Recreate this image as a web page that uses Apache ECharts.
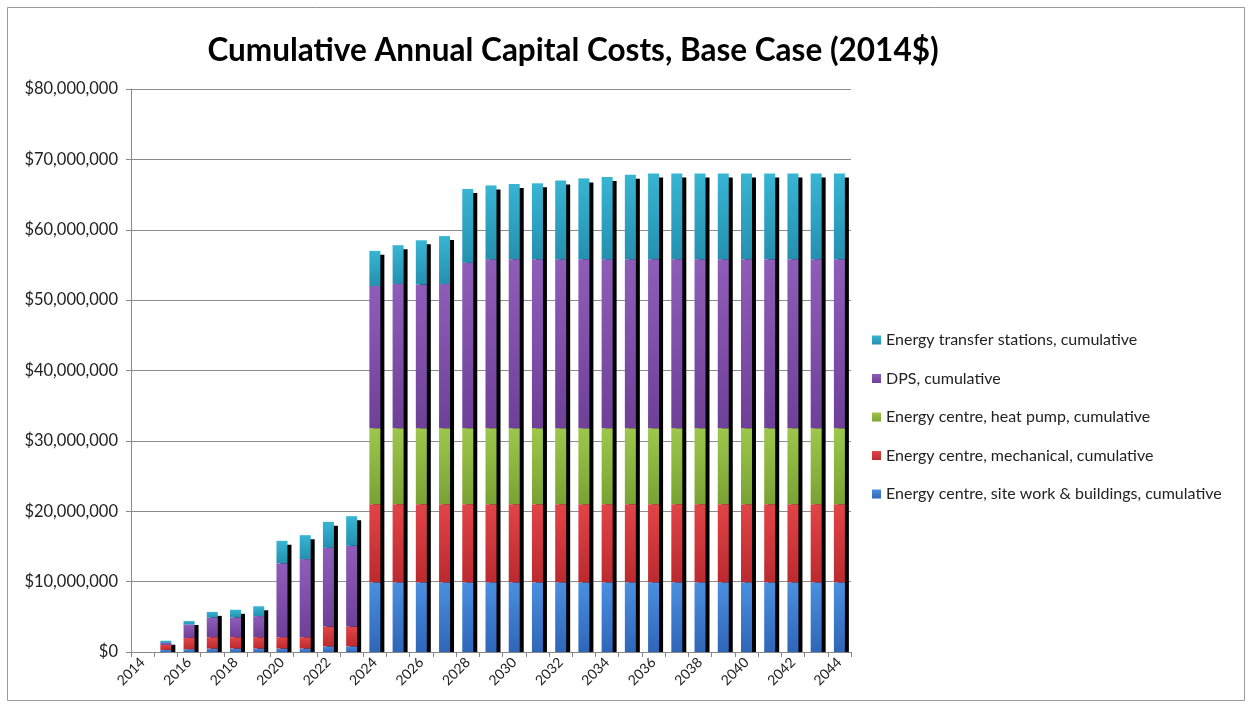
<!DOCTYPE html>
<html>
<head>
<meta charset="utf-8">
<script src="https://cdn.jsdelivr.net/npm/echarts@6/dist/echarts.min.js"></script>
<style>
  html, body { margin: 0; padding: 0; background: #fff; }
  #chart { width: 1250px; height: 707px; }
</style>
</head>
<body>
<div id="chart"></div>
<script>
// values in millions of 2014 dollars
const years = ['2014', '2015', '2016', '2017', '2018', '2019', '2020', '2021', '2022', '2023',
  '2024', '2025', '2026', '2027', '2028', '2029', '2030', '2031', '2032', '2033',
  '2034', '2035', '2036', '2037', '2038', '2039', '2040', '2041', '2042', '2043', '2044']

const siteWork = [0, 0.3, 0.4, 0.5, 0.5, 0.5, 0.5, 0.5, 0.8, 0.8,
  9.9, 9.9, 9.9, 9.9, 9.9, 9.9, 9.9, 9.9, 9.9, 9.9,
  9.9, 9.9, 9.9, 9.9, 9.9, 9.9, 9.9, 9.9, 9.9, 9.9, 9.9]
const mechanical = [0, 0.7, 1.6, 1.6, 1.6, 1.6, 1.6, 1.6, 2.8, 2.8,
  11.1, 11.1, 11.1, 11.1, 11.1, 11.1, 11.1, 11.1, 11.1, 11.1,
  11.1, 11.1, 11.1, 11.1, 11.1, 11.1, 11.1, 11.1, 11.1, 11.1, 11.1]
const heatPump = [0, 0, 0, 0, 0, 0, 0, 0, 0, 0,
  10.8, 10.8, 10.8, 10.8, 10.8, 10.8, 10.8, 10.8, 10.8, 10.8,
  10.8, 10.8, 10.8, 10.8, 10.8, 10.8, 10.8, 10.8, 10.8, 10.8, 10.8]
const dps = [0, 0.3, 1.9, 2.8, 2.8, 3.0, 10.5, 11.1, 11.2, 11.5,
  20.2, 20.5, 20.4, 20.5, 23.5, 24.0, 24.0, 24.0, 24.0, 24.0,
  24.0, 24.0, 24.0, 24.0, 24.0, 24.0, 24.0, 24.0, 24.0, 24.0, 24.0]
const transfer = [0, 0.3, 0.5, 0.8, 1.1, 1.4, 3.2, 3.4, 3.7, 4.2,
  5.0, 5.5, 6.3, 6.8, 10.5, 10.5, 10.7, 10.8, 11.2, 11.5,
  11.7, 12.0, 12.2, 12.2, 12.2, 12.2, 12.2, 12.2, 12.2, 12.2, 12.2]

const seriesNames = [
  'Energy centre, site work & buildings, cumulative',
  'Energy centre, mechanical, cumulative',
  'Energy centre, heat pump, cumulative',
  'DPS, cumulative',
  'Energy transfer stations, cumulative'
]
const seriesData = [siteWork, mechanical, heatPump, dps, transfer]
// [top, bottom] of the gradient in each segment
const seriesColors = [
  ['#4a8fe0', '#2f66b8'],
  ['#e24447', '#bb2a2f'],
  ['#9dc74b', '#7aa233'],
  ['#8e5db9', '#6f4098'],
  ['#37b5d3', '#2590b0']
]

const barW = 11
const shadowOff = 4
const totals = years.map((y, i) => seriesData.reduce((s, arr) => s + arr[i], 0))

const font = 'Lato, "Open Sans", sans-serif'
const chart = echarts.init(document.getElementById('chart'))

const bars = seriesNames.map((name, k) => ({
  name: name,
  type: 'bar',
  stack: 'cost',
  barWidth: barW,
  z: 3,
  itemStyle: {
    color: new echarts.graphic.LinearGradient(0, 0, 0, 1, [
      { offset: 0, color: seriesColors[k][0] },
      { offset: 1, color: seriesColors[k][1] }
    ])
  },
  emphasis: { disabled: true },
  data: seriesData[k]
}))

// black drop shadow behind each stacked column
const shadow = {
  name: 'shadow',
  type: 'custom',
  z: 2,
  silent: true,
  data: totals.map((t, i) => [i, t]),
  renderItem: function (params, api) {
    const v = api.value(1)
    if (!v) return
    const top = api.coord([api.value(0), v])
    const base = api.coord([api.value(0), 0])
    const h = base[1] - top[1] - shadowOff
    if (h <= 0) return
    return {
      type: 'rect',
      shape: { x: top[0] - barW / 2 + shadowOff, y: top[1] + shadowOff, width: barW, height: h },
      style: { fill: '#000' }
    }
  }
}

chart.setOption({
  animation: false,
  textStyle: { fontFamily: font },
  title: {
    text: 'Cumulative Annual Capital Costs, Base Case (2014$)',
    left: 568,
    top: 30,
    textAlign: 'center',
    textStyle: { fontFamily: font, fontSize: 31.5, fontWeight: 'bold', color: '#000' }
  },
  legend: {
    orient: 'vertical',
    left: 867,
    top: 327,
    itemWidth: 9,
    itemHeight: 9,
    itemGap: 22.5,
    icon: 'rect',
    textStyle: { fontFamily: font, fontSize: 16, color: '#222' },
    data: seriesNames.slice().reverse()
  },
  grid: { left: 131, right: 399, top: 89, bottom: 55 },
  xAxis: {
    type: 'category',
    data: years,
    axisLine: { lineStyle: { color: '#888' } },
    axisTick: { show: true, interval: 0, length: 5, lineStyle: { color: '#888' } },
    axisLabel: { interval: 1, rotate: 45, fontSize: 14, color: '#222', fontFamily: font, margin: 8 }
  },
  yAxis: {
    type: 'value',
    min: 0,
    max: 80,
    interval: 10,
    axisLine: { show: true, lineStyle: { color: '#888' } },
    axisTick: { show: true, length: 5, lineStyle: { color: '#888' } },
    splitLine: { lineStyle: { color: '#8c8c8c' } },
    axisLabel: {
      fontSize: 16.5,
      color: '#222',
      fontFamily: font,
      margin: 13,
      formatter: v => '$' + (v * 1e6).toLocaleString('en-US')
    }
  },
  graphic: [{
    type: 'rect',
    silent: true,
    shape: { x: 7.5, y: 7.5, width: 1237, height: 693 },
    style: { fill: 'none', stroke: '#999', lineWidth: 1 }
  }],
  series: [shadow].concat(bars)
})
</script>
</body>
</html>
